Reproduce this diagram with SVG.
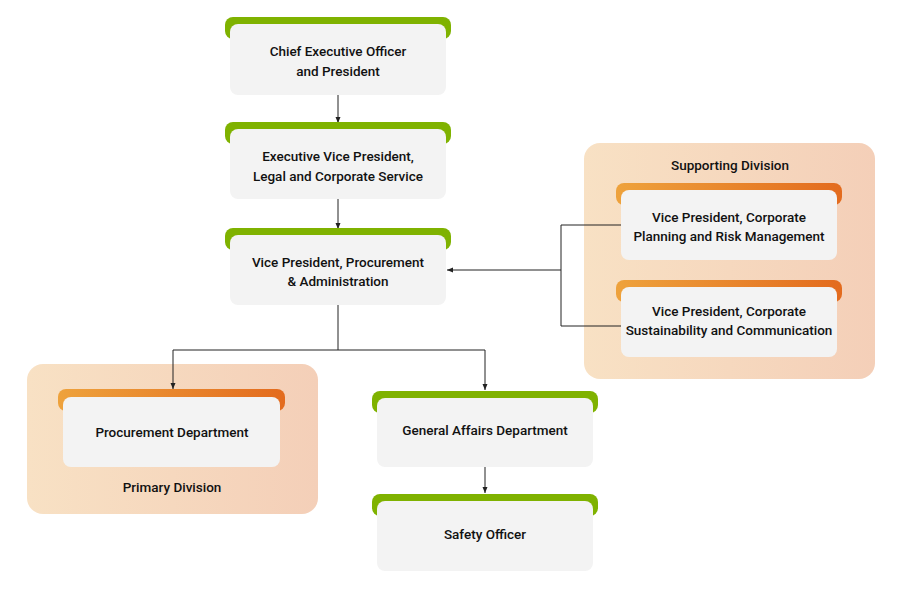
<svg xmlns="http://www.w3.org/2000/svg" width="901" height="590" viewBox="0 0 901 590">
<defs>
<linearGradient id="div" x1="0" x2="1" y1="0" y2="0"><stop offset="0" stop-color="#f8e1c4"/><stop offset="1" stop-color="#f4cfb8"/></linearGradient>
<linearGradient id="org" x1="0" x2="1" y1="0" y2="0"><stop offset="0" stop-color="#eea23c"/><stop offset="1" stop-color="#e36b1e"/></linearGradient>
<marker id="ar" viewBox="0 0 6 6" refX="6" refY="3" markerWidth="6" markerHeight="6" orient="auto"><path d="M0,0.5 L6,3 L0,5.5 z" fill="#222"/></marker>
</defs>
<style>
.box{fill:#f3f3f3}
.g{fill:#7fb200}
.o{fill:url(#org)}
.t{font-family:Roboto,"Liberation Sans",Arial,sans-serif;font-weight:500;font-size:13.5px;fill:#111;text-anchor:middle}
.c{fill:none;stroke:#222;stroke-width:1}
</style>
<rect x="584" y="143" width="291" height="236" rx="16" fill="url(#div)"/>
<rect x="27" y="364" width="291" height="150" rx="16" fill="url(#div)"/>
<g id="connectors">
<path class="c" d="M338 95 V123" marker-end="url(#ar)"/>
<path class="c" d="M338 199 V229" marker-end="url(#ar)"/>
<path class="c" d="M338 305 V350 H173 V389" marker-end="url(#ar)"/>
<path class="c" d="M338 350 H485 V390" marker-end="url(#ar)"/>
<path class="c" d="M485 467 V493" marker-end="url(#ar)"/>
<path class="c" d="M621 225 H561 V326 H621"/>
<path class="c" d="M561 270 H447" marker-end="url(#ar)"/>
</g>
<g id="ceo"><rect class="g" x="225" y="17" width="226" height="22" rx="8"/><rect class="box" x="230" y="24" width="216" height="71" rx="8"/><text class="t" x="338" y="56">Chief Executive Officer</text><text class="t" x="338" y="76">and President</text></g>
<g id="evp"><rect class="g" x="225" y="122" width="226" height="22" rx="8"/><rect class="box" x="230" y="129" width="216" height="70" rx="8"/><text class="t" x="338" y="161">Executive Vice President,</text><text class="t" x="338" y="181">Legal and Corporate Service</text></g>
<g id="vp"><rect class="g" x="225" y="228" width="226" height="22" rx="8"/><rect class="box" x="230" y="235" width="216" height="70" rx="8"/><text class="t" x="338" y="267">Vice President, Procurement</text><text class="t" x="338" y="286">&amp; Administration</text></g>
<g id="supporting"><text class="t" x="730" y="170">Supporting Division</text></g>
<g id="vp-cprm"><rect class="o" x="616" y="183" width="226" height="22" rx="8"/><rect class="box" x="621" y="190" width="216" height="70" rx="8"/><text class="t" x="729" y="222">Vice President, Corporate</text><text class="t" x="729" y="241">Planning and Risk Management</text></g>
<g id="vp-csc"><rect class="o" x="616" y="280" width="226" height="22" rx="8"/><rect class="box" x="621" y="287" width="216" height="70" rx="8"/><text class="t" x="729" y="316">Vice President, Corporate</text><text class="t" x="729" y="335">Sustainability and Communication</text></g>
<g id="primary"><text class="t" x="172" y="492">Primary Division</text></g>
<g id="procurement"><rect class="o" x="58" y="389" width="227" height="22" rx="8"/><rect class="box" x="63" y="397" width="217" height="70" rx="8"/><text class="t" x="172" y="437">Procurement Department</text></g>
<g id="ga"><rect class="g" x="372" y="391" width="226" height="22" rx="8"/><rect class="box" x="377" y="398" width="216" height="69" rx="8"/><text class="t" x="485" y="435">General Affairs Department</text></g>
<g id="safety"><rect class="g" x="372" y="494" width="226" height="22" rx="8"/><rect class="box" x="377" y="501" width="216" height="70" rx="8"/><text class="t" x="485" y="539">Safety Officer</text></g>
</svg>
